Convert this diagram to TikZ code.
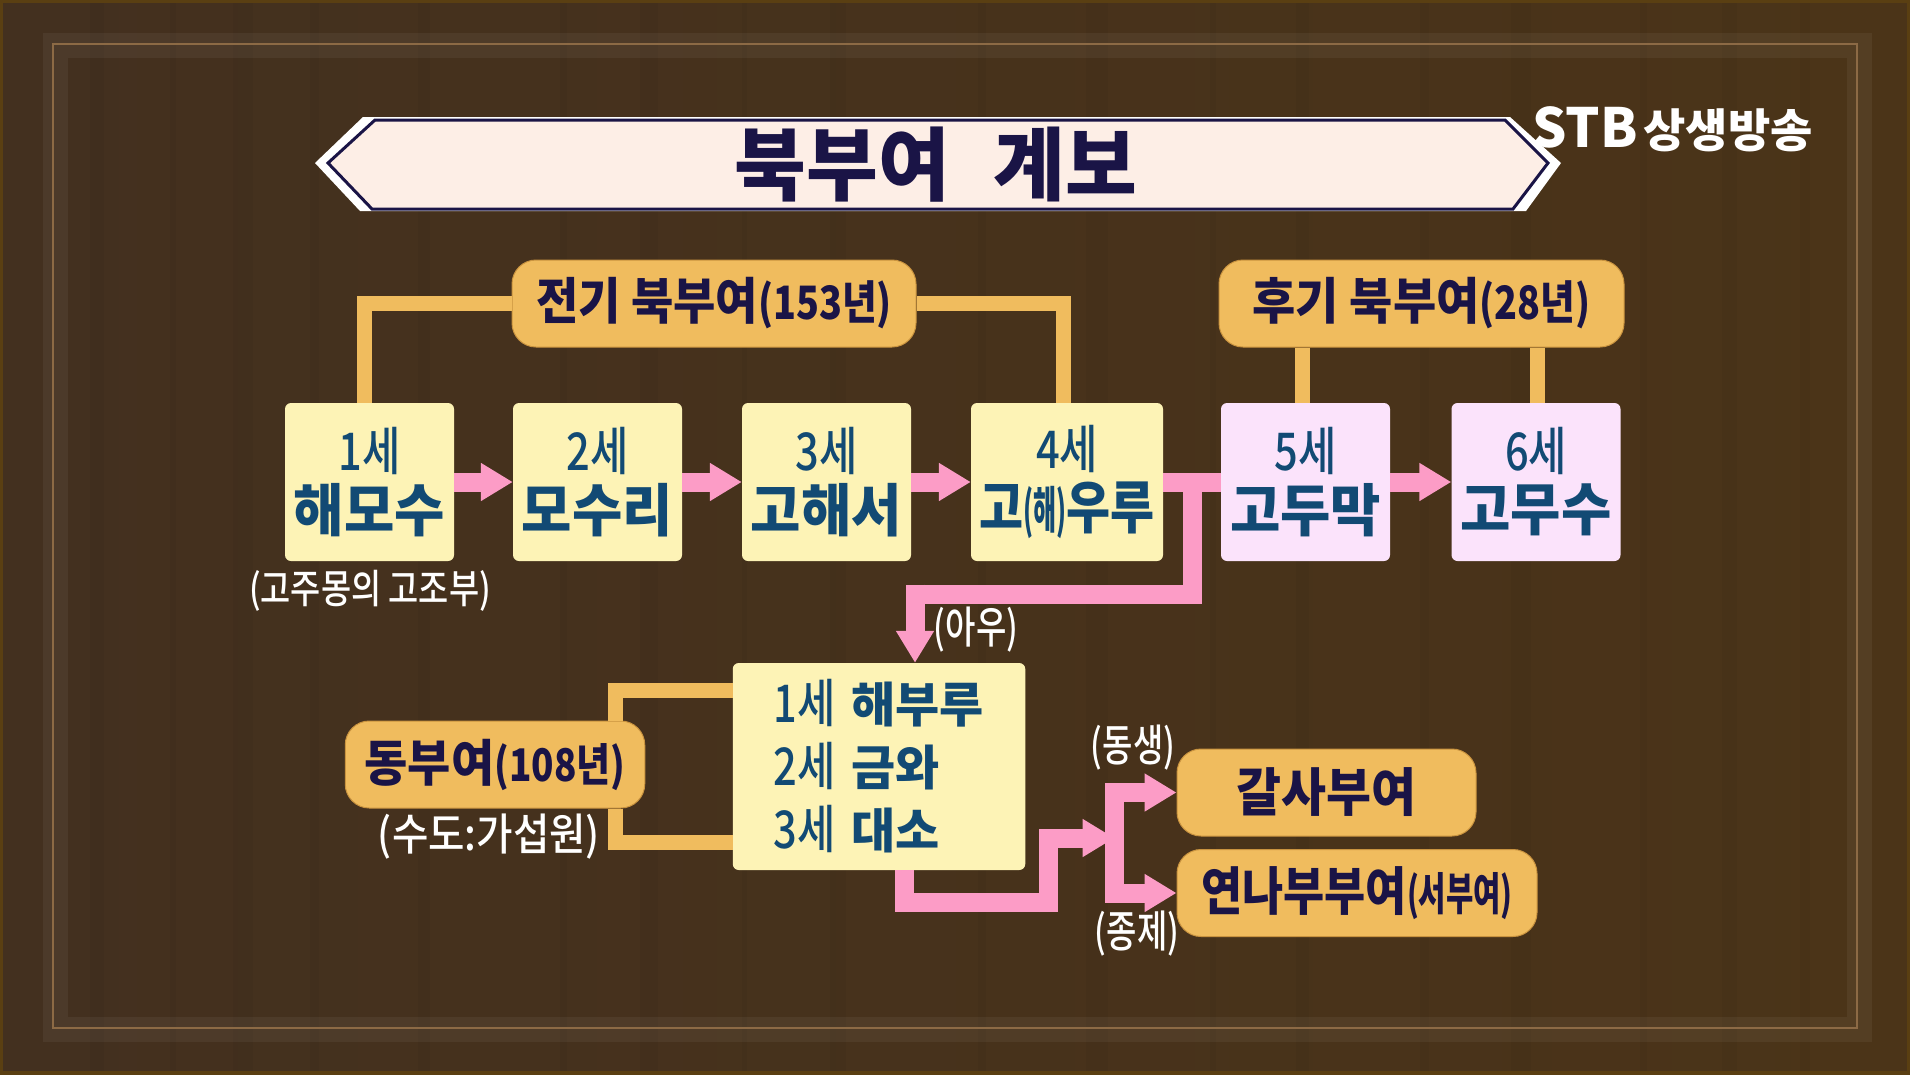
\documentclass[tikz,border=0pt]{standalone}
\usepackage{fontspec}
\usetikzlibrary{arrows.meta}
\setmainfont{Noto Sans CJK KR}
\newfontfamily\medfont{Noto Sans CJK KR Medium}
\newfontfamily\blackfont{Noto Sans CJK KR Black}
\definecolor{woodbase}{HTML}{43301F}
\definecolor{woodwarm}{HTML}{4B3418}
\definecolor{woodrim}{HTML}{5A3F12}
\definecolor{rimline}{HTML}{8C6A45}
\definecolor{cream}{HTML}{FDEEE6}
\definecolor{navy}{HTML}{1A1446}
\definecolor{gold}{HTML}{F0BC5E}
\definecolor{goldedge}{HTML}{C9933F}
\definecolor{palegold}{HTML}{FDF3B6}
\definecolor{palepink}{HTML}{FBE3FB}
\definecolor{rose}{HTML}{FC9CC6}
\definecolor{inkblue}{HTML}{124A74}
\newcommand{\txt}[3]{{\fontsize{#1}{#1}\selectfont\addfontfeature{FakeStretch=#2}#3}}
\newcommand{\gennum}[1]{{\medfont\txt{52}{.8}{#1}}}
\newcommand{\gen}[2]{\gennum{#1}\\[8pt]\txt{57}{.96}{\bfseries #2}}
\tikzset{
  genbox/.style={fill=palegold,rounded corners=6pt,inner sep=0pt,minimum width=169pt,minimum height=158pt,align=center,text=inkblue},
  goldbox/.style={fill=gold,draw=goldedge,line width=1pt,rounded corners=24pt,inner sep=0pt,minimum height=87pt,text=navy,font=\bfseries},
  goldline/.style={gold,line width=15pt},
  roseline/.style={rose,line width=19pt},
  rosearrow/.style={roseline,-{Triangle[length=32pt,width=36pt]}},
  whitenote/.style={text=white,inner sep=0pt,font=\medfont}
}
\begin{document}
\begin{tikzpicture}[x=1pt,y=-1pt]
\useasboundingbox (0,0) rectangle (1910,1074);
\shade[left color=woodbase,right color=woodwarm] (0,0) rectangle (1910,1074);
\foreach \gx/\gw in {90/14,170/6,233/20,310/9,418/12,560/7,640/18,742/5,830/16,978/8,1086/22,1210/6,1296/13,1420/9,1511/20,1640/7,1722/15,1800/10}
  \fill[black,opacity=.03] (\gx,0) rectangle (\gx+\gw,1074);
\draw[white,opacity=.05,line width=25pt] (55,45.5) rectangle (1859,1029.5);
\draw[rimline,line width=2pt] (52.5,44) rectangle (1857,1028);
\draw[woodrim,line width=6pt] (0,0) rectangle (1910,1074);
% banner
\fill[white] (363,117)--(315,163)--(360,211)--(1526,211)--(1561,163)--(1510,117)--cycle;
\fill[cream] (375,120)--(328,163)--(372,209)--(1513,209)--(1548,163)--(1505,120)--cycle;
\draw[navy,line width=3pt] (375,120)--(328,163)--(372,209)--(1513,209)--(1548,163)--(1505,120)--cycle;
\node[inner sep=0pt,text=navy,font=\blackfont] (title) at (936,165) {\txt{80}{.975}{북부여\hspace{44pt}계보}};
\node[whitenote,font=\bfseries,anchor=west] (logo) at (1532,129) {\txt{54}{1}{STB}\hspace{6pt}\txt{46}{1}{상생방송}};
% upper row
\coordinate (fork) at (1192.5,481);
\node[genbox] (gen1) at (369.5,482) {\gen{1세}{해모수}};
\node[genbox] (gen2) at (597.5,482) {\gen{2세}{모수리}};
\node[genbox] (gen3) at (826.5,482) {\gen{3세}{고해서}};
\node[genbox,minimum width=192pt] (gen4) at (1067,482) {\gennum{4세}\\[8pt]\txt{57}{.84}{\bfseries 고\txt{50}{.5}{(해)}우루}};
\node[genbox,fill=palepink] (gen5) at (1305.5,482) {\gen{5세}{고두막}};
\node[genbox,fill=palepink] (gen6) at (1536,482) {\gen{6세}{고무수}};
\node[goldbox,minimum width=404pt] (early) at (714,303.5) {\txt{50}{.92}{전기 북부여}\txt{46}{.82}{(153년)}};
\node[goldbox,minimum width=405pt] (late) at (1421.5,303.5) {\txt{50}{.94}{후기 북부여}\txt{46}{.82}{(28년)}};
\node[whitenote] (note1) at (370,591) {\txt{40}{.82}{(고주몽의 고조부)}};
% lower part
\node[genbox,minimum width=292.5pt,minimum height=207pt,text width=211pt,align=left] (main) at (879,766.5) {%
  \baselineskip=63pt{\medfont\txt{52}{.8}{1세}}\hspace{16pt}\txt{48}{1}{\bfseries 해부루}\par
  {\medfont\txt{52}{.8}{2세}}\hspace{16pt}\txt{48}{1}{\bfseries 금와}\par
  {\medfont\txt{52}{.8}{3세}}\hspace{16pt}\txt{48}{1}{\bfseries 대소}\par};
\node[goldbox,minimum width=299.5pt] (dong) at (495,764.5) {\txt{50}{.94}{동부여}\txt{45}{.82}{(108년)}};
\node[goldbox,minimum width=299pt] (galsa) at (1326.5,792.5) {\txt{52}{.94}{갈사부여}};
\node[goldbox,minimum width=360pt] (yeon) at (1357,893) {\txt{52}{.86}{연나부부여}\txt{45}{.66}{(서부여)}};
\node[whitenote] (note2) at (489,837) {\txt{44}{.9}{(수도:가섭원)}};
\node[whitenote] (note3) at (976,630) {\txt{44}{.75}{(아우)}};
\node[whitenote] (note4) at (1133,748) {\txt{44}{.75}{(동생)}};
\node[whitenote] (note5) at (1137,934) {\txt{44}{.75}{(종제)}};
% gold links
\draw[goldline] (early.west) -| ([xshift=-5.5pt]gen1.north);
\draw[goldline] (early.east) -| ([xshift=-4pt]gen4.north);
\draw[goldline] ([xshift=-3pt]gen5.north) -- ([xshift=-3pt]gen5.north |- late.south);
\draw[goldline] ([xshift=1pt]gen6.north) -- ([xshift=1pt]gen6.north |- late.south);
\draw[goldline] ([xshift=-30pt]dong.north east) |- ([yshift=-27.5pt]main.north west);
\draw[goldline] ([xshift=-30pt]dong.south east) |- ([yshift=27.5pt]main.south west);
% rose links
\draw[rosearrow] (gen1.east) -- (gen2.west);
\draw[rosearrow] (gen2.east) -- (gen3.west);
\draw[rosearrow] (gen3.east) -- (gen4.west);
\draw[roseline] (gen4.east) -- (gen5.west);
\draw[rosearrow] (gen5.east) -- (gen6.west);
\coordinate (turn) at (915,594);
\draw[roseline] (fork) |- ([xshift=-9.5pt]turn);
\draw[rosearrow] ([yshift=9.5pt]turn) -- (turn |- main.north);
\coordinate (split) at (1114.5,838);
\coordinate (drop) at (1048.5,902.5);
\draw[roseline] ([xshift=25pt]main.south) |- ([xshift=9.5pt]drop);
\draw[rosearrow] ([yshift=-9.5pt]drop) |- (split);
\draw[rosearrow] (split) |- (galsa.west);
\draw[rosearrow] (split) |- (yeon.west);
\end{tikzpicture}
\end{document}
